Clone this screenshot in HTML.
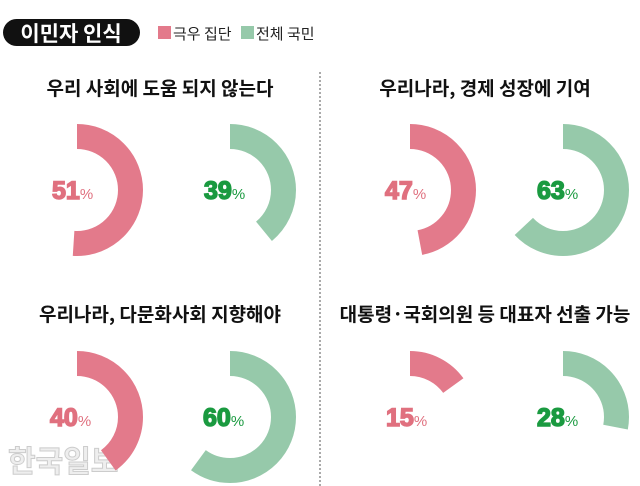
<!DOCTYPE html>
<html><head><meta charset="utf-8"><style>
body{margin:0;width:640px;height:486px;background:#fff;overflow:hidden;font-family:"Liberation Sans","Noto Sans CJK KR",sans-serif;}
</style></head><body>
<svg width="640" height="486" xmlns="http://www.w3.org/2000/svg" style="position:absolute;left:0;top:0">
<rect x="3" y="19" width="137" height="27" rx="13.5" fill="#111"/>
<text x="71" y="41" text-anchor="middle" font-family="Noto Sans CJK KR, sans-serif" font-weight="700" font-size="21" fill="#fff">이민자 인식</text>
<rect x="158" y="26" width="13" height="13" fill="#e37a8b"/>
<text x="173" y="39" font-family="Noto Sans CJK KR, sans-serif" font-size="15" fill="#222">극우 집단</text>
<rect x="241" y="26" width="13" height="13" fill="#96c9aa"/>
<text x="256" y="39" font-family="Noto Sans CJK KR, sans-serif" font-size="15" fill="#222">전체 국민</text>
<line x1="320" y1="72" x2="320" y2="486" stroke="#555" stroke-width="1" stroke-dasharray="2,2"/>
<g font-family="Noto Sans CJK KR, sans-serif" font-weight="700" font-size="19" fill="#111" text-anchor="middle">
<text x="160" y="95">우리 사회에 도움 되지 않는다</text>
<text x="485" y="95">우리나라, 경제 성장에 기여</text>
<text x="160" y="321">우리나라, 다문화사회 지향해야</text>
<text x="485" y="321">대통령·국회의원 등 대표자 선출 가능</text>
</g>
<text x="8" y="472" font-family="Noto Sans CJK KR, sans-serif" font-weight="700" font-size="30" fill="#eee" stroke="#ccc" stroke-width="1">한국일보</text>
<g fill="none" stroke-width="25">
<circle cx="77" cy="190" r="53.5" stroke="#e37a8b" stroke-dasharray="171.4 400" transform="rotate(-90 77 190)"/>
<circle cx="230" cy="190" r="53.5" stroke="#96c9aa" stroke-dasharray="131.1 400" transform="rotate(-90 230 190)"/>
<circle cx="410" cy="190" r="53.5" stroke="#e37a8b" stroke-dasharray="158.0 400" transform="rotate(-90 410 190)"/>
<circle cx="563" cy="190" r="53.5" stroke="#96c9aa" stroke-dasharray="211.8 400" transform="rotate(-90 563 190)"/>
<circle cx="77" cy="417" r="53.5" stroke="#e37a8b" stroke-dasharray="134.5 400" transform="rotate(-90 77 417)"/>
<circle cx="230" cy="417" r="53.5" stroke="#96c9aa" stroke-dasharray="201.7 400" transform="rotate(-90 230 417)"/>
<circle cx="410" cy="417" r="53.5" stroke="#e37a8b" stroke-dasharray="50.4 400" transform="rotate(-90 410 417)"/>
<circle cx="563" cy="417" r="53.5" stroke="#96c9aa" stroke-dasharray="94.1 400" transform="rotate(-90 563 417)"/>
</g>
<g font-family="Liberation Sans, sans-serif" font-weight="900" font-size="25">
<text x="52" y="199" fill="#e0707f" stroke="#e0707f" stroke-width="1.5">51<tspan font-size="15" font-weight="400" stroke-width="0">%</tspan></text>
<text x="204" y="199" fill="#1a9a40" stroke="#1a9a40" stroke-width="1.5">39<tspan font-size="15" font-weight="400" stroke-width="0">%</tspan></text>
<text x="385" y="199" fill="#e0707f" stroke="#e0707f" stroke-width="1.5">47<tspan font-size="15" font-weight="400" stroke-width="0">%</tspan></text>
<text x="537" y="199" fill="#1a9a40" stroke="#1a9a40" stroke-width="1.5">63<tspan font-size="15" font-weight="400" stroke-width="0">%</tspan></text>
<text x="50" y="426" fill="#e0707f" stroke="#e0707f" stroke-width="1.5">40<tspan font-size="15" font-weight="400" stroke-width="0">%</tspan></text>
<text x="203" y="426" fill="#1a9a40" stroke="#1a9a40" stroke-width="1.5">60<tspan font-size="15" font-weight="400" stroke-width="0">%</tspan></text>
<text x="386" y="426" fill="#e0707f" stroke="#e0707f" stroke-width="1.5">15<tspan font-size="15" font-weight="400" stroke-width="0">%</tspan></text>
<text x="537" y="426" fill="#1a9a40" stroke="#1a9a40" stroke-width="1.5">28<tspan font-size="15" font-weight="400" stroke-width="0">%</tspan></text>
</g>
</svg>
</body></html>
